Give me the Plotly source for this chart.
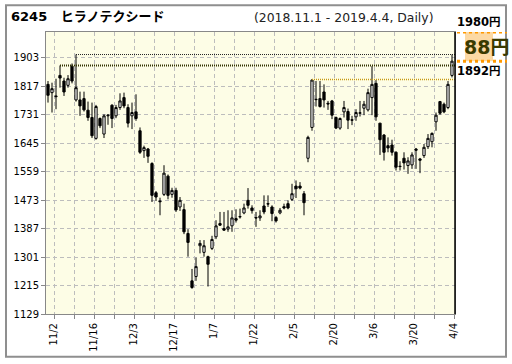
import plotly.graph_objects as go

# ---- data ----
opens = [1822, 1797, 1787, 1849, 1832, 1819, 1877, 1775, 1775, 1779,
         1744, 1722, 1659, 1719, 1672, 1727, 1759, 1727, 1752, 1782,
         1752, 1727, 1739, 1682, 1622, 1627, 1583, 1495, 1470, 1490,
         1545, 1490, 1502, 1452, 1444, 1372, 1229, 1242, 1335, 1315,
         1302, 1327, 1362, 1402, 1387, 1385, 1395, 1417, 1422, 1434,
         1472, 1449, 1420, 1419, 1455, 1462, 1452, 1420, 1434, 1453,
         1462, 1475, 1515, 1515, 1492, 1599, 1692, 1777, 1779, 1799,
         1765, 1772, 1722, 1690, 1739, 1740, 1715, 1724, 1735, 1750,
         1745, 1782, 1825, 1705, 1669, 1637, 1639, 1617, 1575, 1599,
         1577, 1579, 1627, 1597, 1607, 1634, 1649, 1709, 1770, 1762,
         1752, 1849]
highs = [1832, 1827, 1839, 1879, 1842, 1850, 1885, 1912, 1800, 1800,
         1770, 1767, 1760, 1722, 1732, 1732, 1762, 1760, 1795, 1797,
         1762, 1767, 1792, 1692, 1637, 1630, 1587, 1500, 1480, 1578,
         1550, 1510, 1510, 1482, 1462, 1385, 1265, 1299, 1352, 1352,
         1305, 1365, 1412, 1437, 1437, 1442, 1442, 1445, 1447, 1462,
         1509, 1457, 1437, 1442, 1487, 1487, 1457, 1425, 1449, 1462,
         1472, 1522, 1532, 1527, 1500, 1667, 1837, 1832, 1832, 1822,
         1772, 1775, 1725, 1722, 1772, 1749, 1727, 1747, 1772, 1772,
         1809, 1877, 1835, 1705, 1672, 1662, 1655, 1620, 1590, 1617,
         1602, 1617, 1630, 1600, 1642, 1672, 1677, 1737, 1772, 1767,
         1832, 1912]
lows = [1767, 1737, 1747, 1812, 1787, 1812, 1825, 1770, 1727, 1740,
        1712, 1660, 1655, 1690, 1660, 1700, 1690, 1720, 1745, 1750,
        1692, 1687, 1712, 1612, 1600, 1585, 1467, 1470, 1427, 1485,
        1475, 1480, 1437, 1440, 1370, 1302, 1205, 1229, 1312, 1302,
        1212, 1322, 1355, 1395, 1380, 1377, 1377, 1405, 1417, 1430,
        1447, 1432, 1392, 1410, 1430, 1452, 1409, 1405, 1430, 1445,
        1445, 1470, 1479, 1505, 1427, 1587, 1682, 1755, 1752, 1752,
        1745, 1717, 1687, 1685, 1722, 1687, 1699, 1712, 1725, 1729,
        1740, 1729, 1712, 1609, 1592, 1617, 1607, 1562, 1562, 1565,
        1552, 1567, 1567, 1554, 1600, 1627, 1632, 1682, 1730, 1735,
        1747, 1843]
closes = [1789, 1809, 1785, 1841, 1799, 1839, 1832, 1812, 1757, 1745,
          1722, 1667, 1755, 1697, 1727, 1729, 1719, 1752, 1772, 1757,
          1705, 1737, 1719, 1617, 1631, 1605, 1487, 1482, 1468, 1554,
          1487, 1502, 1443, 1472, 1377, 1345, 1209, 1272, 1342, 1335,
          1279, 1354, 1395, 1397, 1382, 1392, 1419, 1412, 1423, 1449,
          1457, 1441, 1419, 1425, 1437, 1461, 1432, 1410, 1442, 1449,
          1449, 1492, 1507, 1509, 1465, 1662, 1835, 1776, 1755, 1775,
          1763, 1729, 1690, 1719, 1752, 1714, 1714, 1737, 1736, 1762,
          1797, 1822, 1724, 1655, 1617, 1630, 1617, 1572, 1574, 1585,
          1591, 1609, 1623, 1593, 1632, 1659, 1674, 1729, 1735, 1739,
          1822, 1892]

tick_labels = ["11/2", "11/16", "12/3", "12/17", "1/7", "1/22",
               "2/5", "2/20", "3/6", "3/20", "4/4"]
label_index = [1, 11, 21, 31, 41, 51, 61, 71, 81, 91, 101]
y_ticks = [1129, 1215, 1301, 1387, 1473, 1559, 1645, 1731, 1817, 1903]

res_levels = [1912, 1879, 1837]
res_start = [7, 3, 66]
res_colors = ["#222222", "#333300", "#c89a10"]
res_widths = [1, 2, 1.5]

upper_price = 1980
last_close = closes[-1]

title_code = "6245"
title_name = "ヒラノテクシード"
period_text = "(2018.11.1 - 2019.4.4, Daily)"

# ---- figure ----
n = len(opens)
xs = list(range(n))
x_range = [-0.5, n - 0.25]

fig = go.Figure()
fig.add_trace(go.Candlestick(
    x=xs, open=opens, high=highs, low=lows, close=closes,
    increasing=dict(line=dict(color="black", width=1), fillcolor="white"),
    decreasing=dict(line=dict(color="black", width=1), fillcolor="black"),
    whiskerwidth=0, showlegend=False, hoverinfo="skip"))

for lvl, st, col, w in zip(res_levels, res_start, res_colors, res_widths):
    fig.add_trace(go.Scatter(x=[st, x_range[1]], y=[lvl, lvl], mode="lines",
                             line=dict(color=col, width=w, dash="1px,1px"),
                             showlegend=False, hoverinfo="skip"))

tickvals = [i + 0.5 for i in range(1, n, 5)]
ticktext = [tick_labels[label_index.index(i)] if i in label_index else ""
            for i in range(1, n, 5)]

axis_font = dict(family="DejaVu Sans", size=10, color="black")
fig.update_layout(
    width=512, height=364,
    margin=dict(l=46, r=57, t=32, b=48),
    paper_bgcolor="white", plot_bgcolor="#fdfde6",
    boxgap=0.2,
    xaxis=dict(range=x_range, tickvals=tickvals, ticktext=ticktext,
               tickangle=-90, ticks="outside", ticklen=4, tickcolor="#888888",
               showline=True, linecolor="#888888", linewidth=1, mirror=True,
               showgrid=True, gridcolor="#bdbdbd", griddash="4px,3px", gridwidth=1,
               zeroline=False, rangeslider=dict(visible=False), tickfont=axis_font),
    yaxis=dict(range=[y_ticks[0], upper_price], tickvals=y_ticks,
               ticks="outside", ticklen=4, tickcolor="#888888",
               showline=True, linecolor="#888888", linewidth=1, mirror=True,
               showgrid=True, gridcolor="#bdbdbd", griddash="4px,3px", gridwidth=1,
               zeroline=False, tickfont=axis_font),
)

# outer frame and right plot border
fig.add_shape(type="rect", xref="paper", yref="paper",
              x0=-0.0978, x1=1.1247, y0=-0.1514, y1=1.0951,
              line=dict(color="#8f8f8f", width=2), layer="below")
fig.add_shape(type="line", xref="paper", yref="paper", x0=1, x1=1, y0=0, y1=1,
              line=dict(color="black", width=1.5))

# right price box (from last close to upper price)
fig.add_shape(type="rect", xref="paper", yref="y", x0=1.0244, x1=1.0929,
              y0=last_close, y1=upper_price, line=dict(width=0),
              fillcolor="#fcd9a4")
for yv in (last_close, upper_price):
    fig.add_shape(type="line", xref="paper", yref="y", x0=1.0049, x1=1.127,
                  y0=yv, y1=yv, line=dict(color="#ff9900", width=3, dash="3px,3px"))

bold_font = "DejaVu Sans, Noto Sans CJK JP"
fig.add_annotation(xref="paper", yref="y", x=1.0575, y=upper_price, yshift=10,
                   xanchor="center", yanchor="middle",
                   text=f"<b>{upper_price}円</b>", showarrow=False,
                   font=dict(family=bold_font, size=11.5, color="black"))
fig.add_annotation(xref="paper", yref="y", x=1.0575, y=last_close, yshift=-10,
                   xanchor="center", yanchor="middle",
                   text=f"<b>{last_close}円</b>", showarrow=False,
                   font=dict(family=bold_font, size=11.5, color="black"))
fig.add_annotation(xref="paper", yref="y", x=1.0758, y=(upper_price + last_close) / 2,
                   xanchor="center", yanchor="middle",
                   text=f"<b>{upper_price - last_close}円</b>", showarrow=False,
                   font=dict(family=bold_font, size=19, color="#3a3a00"))

fig.add_annotation(xref="paper", yref="paper", x=-0.0905, y=1.0563,
                   xanchor="left", yanchor="middle",
                   text=f"<b>{title_code}\u00a0\u00a0\u00a0{title_name}</b>", showarrow=False,
                   font=dict(family=bold_font, size=13, color="black"))
fig.add_annotation(xref="paper", yref="paper", x=0.9511, y=1.051,
                   xanchor="right", yanchor="middle",
                   text=period_text, showarrow=False,
                   font=dict(family="DejaVu Sans", size=12.4, color="#222222"))

fig.write_html("out.html")
